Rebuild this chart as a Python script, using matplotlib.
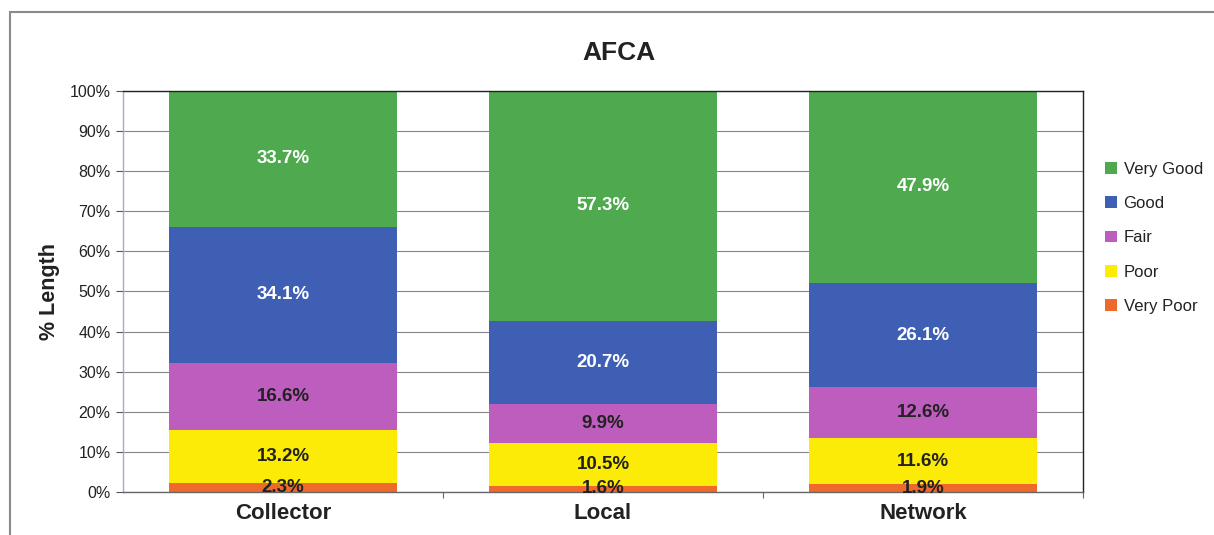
import numpy as np
import matplotlib.pyplot as plt
from matplotlib.patches import Rectangle

plt.rcParams['font.family'] = ['Liberation Sans', 'DejaVu Sans']

# AFCA condition by road class (% of length)
categories = ['Collector', 'Local', 'Network']
conditions = ['Very Poor', 'Poor', 'Fair', 'Good', 'Very Good']
very_poor = [2.3, 1.6, 1.9]
poor = [13.2, 10.5, 11.6]
fair = [16.6, 9.9, 12.6]
good = [34.1, 20.7, 26.1]
very_good = [33.7, 57.3, 47.9]

colors = {
    'Very Poor': '#ee6a2c',
    'Poor': '#fbeb07',
    'Fair': '#bd5dbd',
    'Good': '#3f5fb5',
    'Very Good': '#4fa94f',
}
text_colors = {
    'Very Poor': '#222222',
    'Poor': '#222222',
    'Fair': '#222222',
    'Good': 'white',
    'Very Good': 'white',
}

series = dict(zip(conditions, [very_poor, poor, fair, good, very_good]))

fig = plt.figure(figsize=(12.14, 5.35), dpi=100)
ax = fig.add_axes([0.1013, 0.0804, 0.7908, 0.7495])

x = np.arange(len(categories))
bottom = np.zeros(len(categories))
handles = {}
for name in conditions:
    vals = np.array(series[name]) / 100.0
    bars = ax.bar(x, vals, width=0.7125, bottom=bottom, color=colors[name],
                  linewidth=0, zorder=2)
    handles[name] = bars
    for xi, b, v, raw in zip(x, bottom, vals, series[name]):
        ax.text(xi, b + v / 2, f'{raw:.1f}%', ha='center', va='center',
                fontsize=13.5, fontweight='bold', color=text_colors[name],
                zorder=3)
    bottom += vals

ax.set_xlim(-0.5, 2.5)
ax.set_ylim(0, 1.0)
ax.set_yticks(np.arange(0, 1.01, 0.1))
ax.set_yticklabels([f'{int(round(t * 100))}%' for t in np.arange(0, 1.01, 0.1)],
                   fontsize=11.5, color='#222222')
ax.yaxis.grid(True, color='#858585', linewidth=0.8, zorder=0)
ax.set_axisbelow(True)
ax.tick_params(axis='y', length=5, width=0.8, color='#555555', pad=4)

ax.set_xticks(x)
ax.set_xticklabels(categories, fontsize=16, fontweight='bold', color='#222222')
ax.tick_params(axis='x', length=0, pad=8)
ax.set_xticks([0.5, 1.5, 2.5], minor=True)
ax.tick_params(axis='x', which='minor', length=4, width=0.8, color='#666666')

ax.spines['left'].set_color('#a8a8d0')
ax.spines['bottom'].set_color('#666666')
ax.spines['right'].set_color('#222222')
ax.spines['top'].set_color('#222222')
for s in ax.spines.values():
    s.set_linewidth(1.0)

ax.set_ylabel('% Length', fontsize=15.5, fontweight='bold', color='#222222',
              labelpad=7)
ax.set_title('AFCA', fontsize=19, fontweight='bold', color='#222222', pad=22,
             x=0.517)

legend_order = ['Very Good', 'Good', 'Fair', 'Poor', 'Very Poor']
leg = fig.legend([handles[n] for n in legend_order], legend_order,
                 loc='upper left', bbox_to_anchor=(0.898, 0.726),
                 frameon=False, fontsize=12, handlelength=0.7,
                 handleheight=0.7, handletextpad=0.4, labelspacing=1.16)
for t in leg.get_texts():
    t.set_color('#222222')

# outer chart frame
fig.patches.append(Rectangle((10 / 1214, -0.1), 1.2, 1 - 12 / 535 + 0.1,
                             transform=fig.transFigure, fill=False,
                             edgecolor='#8a8a8a', linewidth=1.5))

fig.savefig('out.png', dpi=100)
